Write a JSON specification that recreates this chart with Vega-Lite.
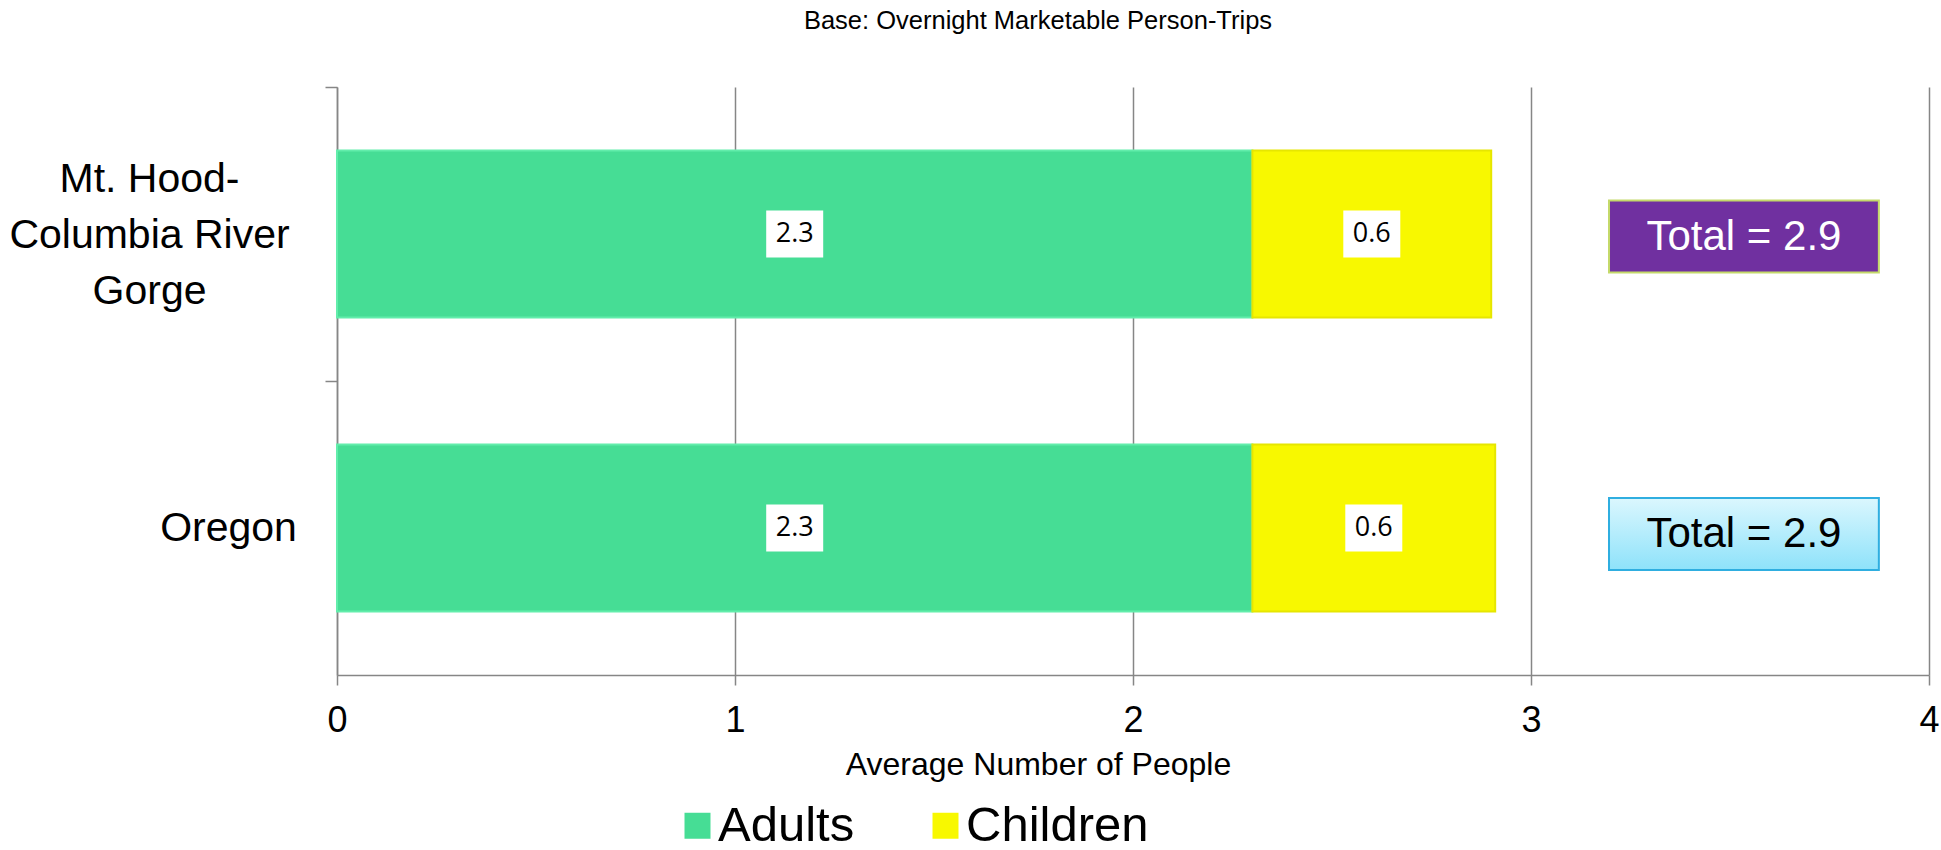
{
  "$schema": "https://vega.github.io/schema/vega-lite/v6.json",
  "width": 1592,
  "height": 588,
  "autosize": {"type": "none"},
  "padding": {"left": 337, "top": 87, "right": 12, "bottom": 175},
  "background": "white",
  "config": {"font": "Liberation Sans", "view": {"stroke": null}},
  "title": {"text": "Base: Overnight Marketable Person-Trips", "font": "Liberation Sans", "fontSize": 25.5, "fontWeight": "normal", "color": "black", "anchor": "middle", "frame": "group", "dx": -95, "offset": 32, "baseline": "alphabetic"},
  "data": {"values": [
    {"region": "Mt. Hood-Columbia River Gorge", "type": "Adults", "value": 2.3},
    {"region": "Mt. Hood-Columbia River Gorge", "type": "Children", "value": 0.6},
    {"region": "Oregon", "type": "Adults", "value": 2.3},
    {"region": "Oregon", "type": "Children", "value": 0.61}
  ]},
  "encoding": {
    "y": {
      "field": "region", "type": "nominal",
      "sort": ["Mt. Hood-Columbia River Gorge", "Oregon"],
      "scale": {"paddingInner": 0.432, "paddingOuter": 0.216},
      "axis": {
        "title": null, "grid": false,
        "domainColor": "#868686", "domainWidth": 1.5,
        "tickColor": "#868686", "tickWidth": 1.5, "tickSize": 12,
        "tickOffset": -147,
        "labelOffset": {"condition": {"test": "datum.value == 'Oregon'", "value": 147}, "value": 92},
        "labelFont": "Liberation Sans", "labelFontSize": 41, "labelColor": "black",
        "labelAlign": "center", "labelBaseline": "middle", "labelLineHeight": 56,
        "labelPadding": {"condition": {"test": "datum.value == 'Oregon'", "value": 97}, "value": 176},
        "labelLimit": 0,
        "labelExpr": "datum.value == 'Oregon' ? 'Oregon' : ['Mt. Hood-', 'Columbia River', 'Gorge']"
      }
    }
  },
  "layer": [
    {
      "mark": {"type": "bar", "strokeWidth": 2},
      "encoding": {
        "x": {
          "field": "value", "type": "quantitative", "stack": "zero",
          "title": "Average Number of People",
          "scale": {"domain": [0, 4], "nice": false},
          "axis": {
            "values": [0, 1, 2, 3, 4], "format": "d",
            "labelFont": "Liberation Sans", "labelFontSize": 36, "labelColor": "black", "labelPadding": 18, "labelFlush": false,
            "tickSize": 10, "tickColor": "#868686", "tickWidth": 1.5,
            "domainColor": "#868686", "domainWidth": 1.5,
            "grid": true, "gridColor": "#868686", "gridWidth": 1.5,
            "titleFont": "Liberation Sans", "titleFontSize": 32, "titleFontWeight": "normal", "titleColor": "black",
            "titleX": 701, "titleY": 99, "titleBaseline": "alphabetic", "titleAlign": "center"
          }
        },
        "color": {
          "field": "type", "type": "nominal",
          "sort": ["Adults", "Children"],
          "scale": {"domain": ["Adults", "Children"], "range": ["#46DD95", "#F8F800"]},
          "legend": {
            "orient": "none", "direction": "horizontal", "legendX": 336, "legendY": 714,
            "title": null, "labelFont": "Liberation Sans", "labelFontSize": 49, "labelColor": "black", "labelLimit": 0,
            "symbolType": "square", "symbolSize": 676, "symbolStrokeWidth": 0, "symbolOpacity": 1,
            "labelOffset": -4, "columnPadding": 66, "padding": 0
          }
        },
        "stroke": {
          "field": "type", "type": "nominal",
          "scale": {"domain": ["Adults", "Children"], "range": ["#62EDAB", "#E6E600"]},
          "legend": null
        }
      }
    },
    {
      "transform": [
        {"stack": "value", "groupby": ["region"], "sort": [{"field": "type", "order": "ascending"}], "as": ["v0", "v1"]},
        {"calculate": "(datum.v0 + datum.v1) / 2", "as": "mid"}
      ],
      "mark": {"type": "point", "shape": "M-1,-0.825L1,-0.825L1,0.825L-1,0.825Z", "size": 3249, "filled": true, "fill": "white", "opacity": 1, "strokeWidth": 0},
      "encoding": {"x": {"field": "mid", "type": "quantitative", "title": "Average Number of People"}}
    },
    {
      "transform": [
        {"stack": "value", "groupby": ["region"], "sort": [{"field": "type", "order": "ascending"}], "as": ["v0", "v1"]},
        {"calculate": "(datum.v0 + datum.v1) / 2", "as": "mid"}
      ],
      "mark": {"type": "text", "font": "Open Sans", "fontSize": 27, "color": "black", "align": "center", "baseline": "middle"},
      "encoding": {
        "x": {"field": "mid", "type": "quantitative", "title": "Average Number of People"},
        "text": {"field": "value", "type": "quantitative", "format": ".1f"}
      }
    },
    {
      "transform": [
        {"filter": "datum.region == 'Mt. Hood-Columbia River Gorge'"},
        {"aggregate": [{"op": "sum", "field": "value", "as": "total"}], "groupby": ["region"]}
      ],
      "mark": {"type": "bar", "height": 72, "yOffset": 2.5, "fill": "#7030A0", "stroke": "#C4D96A", "strokeWidth": 2},
      "encoding": {"x": {"datum": 3.196, "type": "quantitative"}, "x2": {"datum": 3.874}}
    },
    {
      "transform": [
        {"filter": "datum.region == 'Oregon'"},
        {"aggregate": [{"op": "sum", "field": "value", "as": "total"}], "groupby": ["region"]}
      ],
      "mark": {"type": "bar", "height": 72, "yOffset": 6, "fill": {"gradient": "linear", "x1": 0, "y1": 0, "x2": 0, "y2": 1, "stops": [{"offset": 0, "color": "#DBF7FE"}, {"offset": 1, "color": "#8EE2FA"}]}, "stroke": "#2FAEE0", "strokeWidth": 2},
      "encoding": {"x": {"datum": 3.196, "type": "quantitative"}, "x2": {"datum": 3.874}}
    },
    {
      "transform": [
        {"filter": "datum.region == 'Mt. Hood-Columbia River Gorge'"},
        {"aggregate": [{"op": "sum", "field": "value", "as": "total"}], "groupby": ["region"]},
        {"calculate": "'Total = ' + format(datum.total, '.1f')", "as": "label"}
      ],
      "mark": {"type": "text", "font": "Liberation Sans", "fontSize": 42, "color": "white", "align": "center", "baseline": "middle", "yOffset": 2.5},
      "encoding": {"x": {"datum": 3.535, "type": "quantitative"}, "text": {"field": "label", "type": "nominal"}}
    },
    {
      "transform": [
        {"filter": "datum.region == 'Oregon'"},
        {"aggregate": [{"op": "sum", "field": "value", "as": "total"}], "groupby": ["region"]},
        {"calculate": "'Total = ' + format(datum.total, '.1f')", "as": "label"}
      ],
      "mark": {"type": "text", "font": "Liberation Sans", "fontSize": 42, "color": "black", "align": "center", "baseline": "middle", "yOffset": 6},
      "encoding": {"x": {"datum": 3.535, "type": "quantitative"}, "text": {"field": "label", "type": "nominal"}}
    }
  ]
}
